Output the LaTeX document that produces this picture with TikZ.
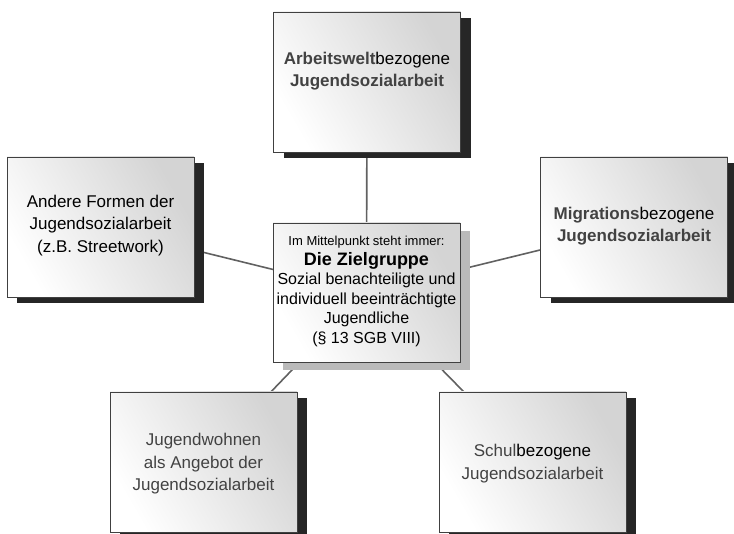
\documentclass[tikz,border=0pt]{standalone}
\usepackage{fontspec}
\setmainfont{Liberation Sans}
\usetikzlibrary{shadows,backgrounds}
\newcommand\shtxt[1]{\textcolor{black!74}{#1}}
\begin{document}
\begin{tikzpicture}[x=1pt,y=-1pt,
  boxbase/.style={draw=black!75, line width=0.8pt, minimum width=187pt, minimum height=140pt,
    inner sep=0pt, left color=white, middle color=white, right color=black!17, shading angle=120},
  box/.style={boxbase, drop shadow={shadow xshift=10pt, shadow yshift=-6pt, fill=black!85, opacity=1}},
  cbox/.style={boxbase, minimum height=139pt, drop shadow={shadow xshift=10pt, shadow yshift=-8pt, fill=black!27, opacity=1}},
  txt/.style={align=center, inner sep=0pt, font=\fontsize{17}{22.5}\selectfont},
  conn/.style={draw=black!62, line width=1.6pt}]
\useasboundingbox (0,0) rectangle (734,534);
% boxes
\node[box] (top) at (367,82) {};
\node[box] (left) at (100.5,227) {};
\node[box] (right) at (634,227) {};
\node[box] (bl) at (203.5,462) {};
\node[box] (br) at (532.5,462) {};
\node[cbox] (ctr) at (366.5,292.5) {};
% connectors
\begin{scope}[on background layer]
  \draw[conn] (ctr.center) -- (top.center);
  \draw[conn] (ctr.center) -- (left.center);
  \draw[conn] (ctr.center) -- (right.center);
  \draw[conn] (ctr.center) -- (bl.center);
  \draw[conn] (ctr.center) -- (br.center);
\end{scope}
% texts
\node[txt, font=\fontsize{17}{22.5}\selectfont] (toptxt) at (367,71)
  {\shtxt{\textbf{Arbeitswelt}}bezogene\\\shtxt{\textbf{Jugendsozialarbeit}}};
\node[txt] (lefttxt) at (100.5,225.5)
  {Andere Formen der\\Jugendsozialarbeit\\(z.B. Streetwork)};
\node[txt, font=\fontsize{17}{22.5}\selectfont] (righttxt) at (634,226)
  {\shtxt{\textbf{Migrations}}bezogene\\\shtxt{\textbf{Jugendsozialarbeit}}};
\node[txt] (bltxt) at (203.5,464)
  {\shtxt{Jugendwohnen}\\\shtxt{als Angebot der}\\\shtxt{Jugendsozialarbeit}};
\node[txt] (brtxt) at (532.5,463.5)
  {\shtxt{Schul}bezogene\\\shtxt{Jugendsozialarbeit}};
\node[txt, font=\fontsize{16}{19.6}\selectfont] (ctrtxt) at (366.5,291.5)
  {{\fontsize{13}{16}\selectfont Im Mittelpunkt steht immer:}\\
   {\fontsize{18}{20}\selectfont\bfseries Die Zielgruppe}\\
   Sozial benachteiligte und\\individuell beeinträchtigte\\Jugendliche\\(§ 13 SGB VIII)};
\end{tikzpicture}
\end{document}
